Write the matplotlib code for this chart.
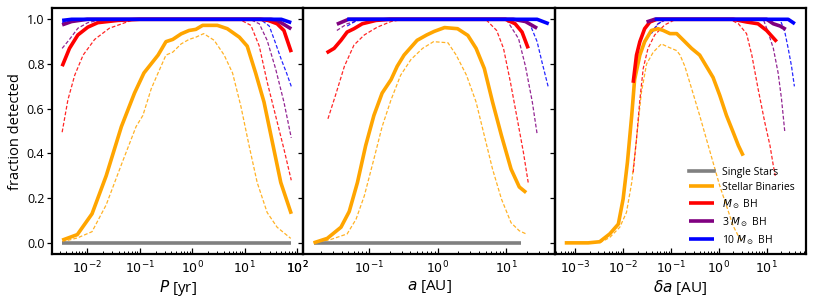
import numpy as np
import matplotlib as mpl
import matplotlib.pyplot as plt

mpl.rcParams.update({
    "font.family": ["Open Sans", "DejaVu Sans"],
    "mathtext.fontset": "dejavusans",
    "font.size": 9.0,
    "axes.linewidth": 1.6,
    "xtick.direction": "in",
    "ytick.direction": "out",
    "xtick.major.size": 4.0,
    "xtick.minor.size": 2.2,
    "ytick.major.size": 3.5,
    "xtick.major.width": 0.9,
    "xtick.minor.width": 0.7,
    "ytick.major.width": 0.9,
})

# ---------------- data: log10(x) and fraction detected ----------------
# panel (a): orbital period P [yr]
P_single = [-2.48, 1.89]
f_single_P = [0.0, 0.0]
P_bin = [-2.48, -2.19, -1.91, -1.64, -1.35, -1.10, -0.92, -0.65, -0.50, -0.37,
         -0.21, -0.06, 0.07, 0.20, 0.48, 0.67, 0.90, 1.05, 1.21, 1.37, 1.53,
         1.69, 1.89]
f_bin_P = [0.012, 0.037, 0.13, 0.30, 0.52, 0.67, 0.76, 0.84, 0.90, 0.91,
           0.935, 0.95, 0.955, 0.973, 0.973, 0.958, 0.92, 0.88, 0.76, 0.63,
           0.45, 0.27, 0.13]
P_bin_d = [-2.48, -2.19, -1.91, -1.64, -1.35, -1.07, -0.94, -0.78, -0.65,
           -0.50, -0.37, -0.21, -0.06, 0.07, 0.22, 0.42, 0.61, 0.77, 0.93,
           1.09, 1.24, 1.43, 1.62, 1.88]
f_bin_P_d = [0.005, 0.022, 0.05, 0.17, 0.35, 0.52, 0.57, 0.69, 0.76, 0.84,
             0.853, 0.89, 0.91, 0.92, 0.936, 0.906, 0.84, 0.76, 0.61, 0.43,
             0.27, 0.136, 0.07, 0.02]
P_bh1 = [-2.48, -2.34, -2.18, -1.99, -1.80, -1.42, -1.0, 1.3, 1.45, 1.62,
         1.75, 1.89]
f_bh1_P = [0.79, 0.87, 0.93, 0.965, 0.985, 0.995, 1.0, 1.0, 0.995, 0.98,
           0.95, 0.853]
P_bh1_d = [-2.48, -2.37, -2.24, -2.08, -1.86, -1.58, -1.16, -0.8, 0.9, 1.12,
           1.28, 1.43, 1.59, 1.75, 1.89]
f_bh1_P_d = [0.495, 0.64, 0.75, 0.84, 0.91, 0.96, 0.995, 1.0, 1.0, 0.973,
             0.88, 0.72, 0.57, 0.42, 0.28]
P_bh3 = [-2.48, -2.3, -2.0, 1.5, 1.62, 1.73, 1.89]
f_bh3_P = [0.975, 0.99, 1.0, 1.0, 0.995, 0.98, 0.957]
P_bh3_d = [-2.48, -2.34, -2.18, -1.99, -1.7, 1.1, 1.28, 1.43, 1.59, 1.75, 1.89]
f_bh3_P_d = [0.87, 0.91, 0.96, 0.985, 1.0, 1.0, 0.98, 0.906, 0.78, 0.63, 0.47]
P_bh10 = [-2.48, -2.3, 1.7, 1.89]
f_bh10_P = [0.995, 1.0, 1.0, 0.985]
P_bh10_d = [-2.48, -2.3, -2.1, 1.3, 1.47, 1.58, 1.70, 1.80, 1.89]
f_bh10_P_d = [0.985, 0.995, 1.0, 1.0, 0.97, 0.90, 0.82, 0.76, 0.70]

# panel (b): semi-major axis a [AU]
a_single = [-1.81, 1.22]
f_single_a = [0.0, 0.0]
a_bin = [-1.81, -1.61, -1.41, -1.29, -1.17, -1.05, -0.93, -0.81, -0.68, -0.59,
         -0.49, -0.30, -0.16, -0.05, 0.10, 0.29, 0.44, 0.56, 0.68, 0.80, 0.93,
         1.07, 1.19, 1.29]
f_bin_a = [0.0, 0.02, 0.07, 0.14, 0.27, 0.435, 0.57, 0.67, 0.73, 0.79, 0.84,
           0.906, 0.93, 0.946, 0.963, 0.958, 0.928, 0.87, 0.78, 0.63, 0.48,
           0.33, 0.25, 0.225]
a_bin_d = [-1.81, -1.56, -1.32, -1.19, -1.07, -0.93, -0.81, -0.68, -0.54,
           -0.39, -0.22, -0.06, 0.15, 0.27, 0.42, 0.56, 0.68, 0.80, 0.93, 1.07,
           1.19, 1.29]
f_bin_a_d = [0.0, 0.015, 0.04, 0.106, 0.21, 0.375, 0.52, 0.64, 0.75, 0.82,
             0.87, 0.90, 0.895, 0.84, 0.75, 0.63, 0.48, 0.33, 0.196, 0.09,
             0.054, 0.04]
a_bh1 = [-1.62, -1.51, -1.41, -1.32, -1.22, -1.10, -0.9, -0.7, 0.99, 1.13,
         1.23, 1.32]
f_bh1_a = [0.85, 0.87, 0.906, 0.943, 0.958, 0.98, 0.995, 1.0, 1.0, 0.98,
           0.943, 0.87]
a_bh1_d = [-1.60, -1.49, -1.36, -1.22, -1.07, -0.88, -0.68, -0.5, 0.7, 0.86,
           0.96, 1.06, 1.16, 1.25, 1.32]
f_bh1_a_d = [0.555, 0.66, 0.79, 0.885, 0.93, 0.965, 0.99, 1.0, 1.0, 0.95,
             0.87, 0.72, 0.555, 0.405, 0.27]
a_bh3 = [-1.47, -1.3, 1.1, 1.28, 1.45]
f_bh3_a = [0.978, 1.0, 1.0, 0.99, 0.96]
a_bh3_d = [-1.47, -1.32, -1.1, 1.0, 1.18, 1.28, 1.38, 1.45]
f_bh3_a_d = [0.95, 0.98, 1.0, 1.0, 0.913, 0.79, 0.63, 0.487]
a_bh10 = [-1.32, 1.45, 1.62]
f_bh10_a = [1.0, 1.0, 0.98]
a_bh10_d = [-1.32, -1.15, 1.25, 1.35, 1.45, 1.52, 1.61]
f_bh10_a_d = [0.97, 1.0, 1.0, 0.975, 0.90, 0.81, 0.70]

# panel (c): semi-major axis change delta a [AU]
da_bin = [-3.22, -2.73, -2.49, -2.28, -2.10, -2.0, -1.91, -1.82, -1.76, -1.65,
          -1.55, -1.41, -1.27, -1.16, -1.02, -0.88, -0.71, -0.57, -0.40, -0.26,
          -0.12, 0.02, 0.16, 0.30, 0.41, 0.51]
f_bin_da = [0.0, 0.0, 0.005, 0.04, 0.084, 0.196, 0.36, 0.57, 0.73, 0.84, 0.90,
            0.95, 0.958, 0.95, 0.936, 0.936, 0.90, 0.87, 0.84, 0.79, 0.74, 0.66,
            0.57, 0.495, 0.435, 0.39]
da_bin_d = [-2.49, -2.28, -2.07, -1.93, -1.82, -1.72, -1.62, -1.51, -1.37,
            -1.20, -1.06, -0.88, -0.81, -0.71, -0.54, -0.40, -0.26, -0.12, 0.02,
            0.16, 0.30, 0.41, 0.48]
f_bin_da_d = [0.0, 0.024, 0.07, 0.136, 0.27, 0.465, 0.67, 0.80, 0.853, 0.89,
              0.876, 0.86, 0.84, 0.79, 0.67, 0.57, 0.465, 0.36, 0.255, 0.166,
              0.076, 0.03, 0.01]
da_bh1 = [-1.79, -1.72, -1.65, -1.55, -1.44, -1.3, 0.3, 0.58, 0.82, 1.0, 1.21]
f_bh1_da = [0.716, 0.84, 0.90, 0.958, 0.988, 1.0, 1.0, 0.988, 0.98, 0.95, 0.90]
da_bh1_d = [-1.79, -1.72, -1.65, -1.58, -1.48, -1.34, -1.13, -0.9, 0.23, 0.41,
            0.58, 0.69, 0.82, 0.96, 1.07, 1.14, 1.18]
f_bh1_da_d = [0.315, 0.465, 0.64, 0.78, 0.87, 0.93, 0.975, 1.0, 1.0, 0.98,
              0.936, 0.84, 0.69, 0.54, 0.435, 0.345, 0.30]
da_bh3 = [-1.51, -1.34, 1.0, 1.14, 1.28, 1.40]
f_bh3_da = [0.988, 1.0, 1.0, 0.98, 0.97, 0.955]
da_bh3_d = [-1.51, -1.41, -1.27, -1.1, 0.93, 1.03, 1.14, 1.24, 1.31, 1.38]
f_bh3_da_d = [0.913, 0.943, 0.98, 1.0, 1.0, 0.943, 0.87, 0.76, 0.645, 0.495]
da_bh10 = [-1.34, 1.45, 1.59]
f_bh10_da = [1.0, 1.0, 0.98]
da_bh10_d = [-1.41, -1.27, -1.1, 1.28, 1.38, 1.45, 1.52, 1.58]
f_bh10_da_d = [0.936, 0.98, 1.0, 1.0, 0.943, 0.87, 0.79, 0.70]

labels = ["Single Stars", "Stellar Binaries", r"$M_\odot$ BH",
          r"3 $M_\odot$ BH", r"10 $M_\odot$ BH"]
colors = ["grey", "orange", "red", "purple", "blue"]
xlabels = [r"$P$ [yr]", r"$a$ [AU]", r"$\delta a$ [AU]"]
xlims = [(2.13e-3, 132.0), (1.1e-2, 50.7), (3.7e-4, 66.0)]
xmajor = [[-2, -1, 0, 1, 2], [-1, 0, 1], [-3, -2, -1, 0, 1]]

panels = [
    dict(solid=[(P_single, f_single_P), (P_bin, f_bin_P), (P_bh1, f_bh1_P),
                (P_bh3, f_bh3_P), (P_bh10, f_bh10_P)],
         dashed=[None, (P_bin_d, f_bin_P_d), (P_bh1_d, f_bh1_P_d),
                 (P_bh3_d, f_bh3_P_d), (P_bh10_d, f_bh10_P_d)]),
    dict(solid=[(a_single, f_single_a), (a_bin, f_bin_a), (a_bh1, f_bh1_a),
                (a_bh3, f_bh3_a), (a_bh10, f_bh10_a)],
         dashed=[None, (a_bin_d, f_bin_a_d), (a_bh1_d, f_bh1_a_d),
                 (a_bh3_d, f_bh3_a_d), (a_bh10_d, f_bh10_a_d)]),
    dict(solid=[None, (da_bin, f_bin_da), (da_bh1, f_bh1_da),
                (da_bh3, f_bh3_da), (da_bh10, f_bh10_da)],
         dashed=[None, (da_bin_d, f_bin_da_d), (da_bh1_d, f_bh1_da_d),
                 (da_bh3_d, f_bh3_da_d), (da_bh10_d, f_bh10_da_d)]),
]

fig, axes = plt.subplots(1, 3, figsize=(8.14, 3.01), dpi=100, sharey=True)
fig.subplots_adjust(left=0.064, right=0.990, top=0.973, bottom=0.156,
                    wspace=0.0)

for i, (ax, pan, xl, lim) in enumerate(zip(axes, panels, xlabels, xlims)):
    ax.set_zorder(3 - i)
    ax.patch.set_alpha(0.0)
    for c, d in zip(colors, pan["dashed"]):
        if d is None:
            continue
        ax.plot(10 ** np.array(d[0]), d[1], color=c, lw=0.9, ls="--",
                dashes=(3, 1.6), alpha=0.85)
    for c, s, lab in zip(colors, pan["solid"], labels):
        if s is None:
            ax.plot([], [], color=c, lw=2.6, label=lab)
            continue
        ax.plot(10 ** np.array(s[0]), s[1], color=c, lw=2.6, label=lab,
                solid_capstyle="butt")
    ax.set_xscale("log")
    ticks = [10.0 ** e for e in xmajor[i]]
    ax.set_xticks(ticks, labels=[r"$10^{%d}$" % e for e in xmajor[i]])
    ax.set_xlim(*lim)
    ax.set_xlabel(xl, fontsize=11, labelpad=1)
    ax.tick_params(axis="x", labelsize=9, pad=4)
    ax.tick_params(axis="y", labelsize=9, pad=2)

# the 10^2 label of panel (a) sits on the panel border; draw it with the
# tick-label transform so it is not lost
trans, va, ha = axes[0].get_xaxis_text1_transform(4.0)
axes[0].text(100.0, 0, r"$10^{2}$", transform=trans, va=va, ha=ha,
             fontsize=9, clip_on=False, zorder=10)

axes[0].set_ylim(-0.05, 1.05)
axes[0].set_yticks(np.arange(0.0, 1.01, 0.2))
axes[0].set_ylabel("fraction detected", fontsize=10.5, labelpad=3)

axes[2].legend(loc="lower right", frameon=False, fontsize=7.5,
               handlelength=2.4, labelspacing=0.4, borderaxespad=0.3,
               bbox_to_anchor=(0.985, 0.0))

fig.savefig("out.png", dpi=100)
